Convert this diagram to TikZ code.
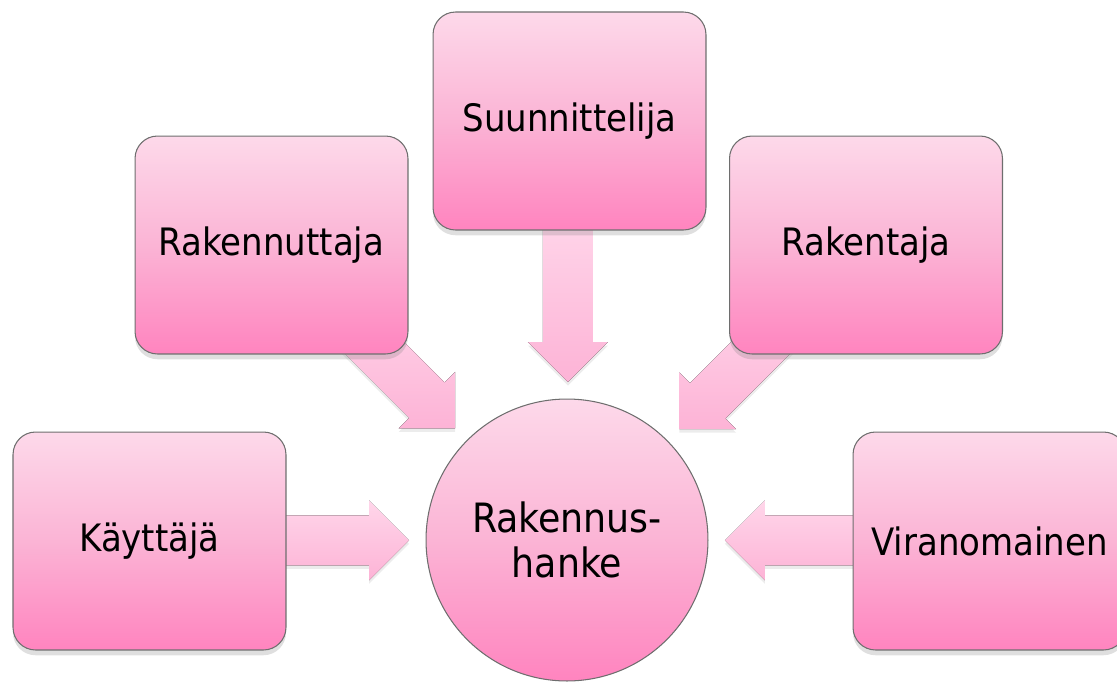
\documentclass[tikz,border=0pt]{standalone}
\usepackage{fontspec}
\setmainfont{DejaVu Sans Condensed}
\usetikzlibrary{calc,shadows,backgrounds}

\definecolor{ylavari}{HTML}{FDD9EA}
\definecolor{keskivari}{HTML}{FBB4D5}
\definecolor{alavari}{HTML}{FF84BF}
\definecolor{nuoliyla}{HTML}{FFD6EA}
\definecolor{nuoliala}{HTML}{FDB3D6}
\definecolor{reuna}{HTML}{6E6E6E}

% block arrow pointing at the project circle
\newcommand\virta[2]{%
  \begin{scope}[shift={($(hanke.center)!3.16cm!(#1.center)$)}, rotate=#2]
    \fill[virtaus] (0,0) -- (-40,40) -- (-40,25) -- (-170,25) -- (-170,-25)
      -- (-40,-25) -- (-40,-40) -- cycle;
  \end{scope}}

\begin{document}
\begin{tikzpicture}[x=0.02cm, y=-0.02cm,
  font=\fontsize{21.5pt}{26pt}\selectfont,
  laatikko/.style={draw=reuna, line width=0.6pt, rounded corners=0.45cm,
    minimum width=5.46cm, minimum height=4.36cm,
    top color=ylavari, bottom color=alavari, middle color=keskivari,
    drop shadow={shadow xshift=0pt, shadow yshift=-3pt, opacity=0.25}},
  pallo/.style={circle, draw=reuna, line width=0.6pt, minimum size=5.64cm,
    top color=ylavari, bottom color=alavari, middle color=keskivari,
    align=center, inner sep=0pt, font=\fontsize{23pt}{26pt}\selectfont},
  virtaus/.style={top color=nuoliyla, bottom color=nuoliala,
    drop shadow={shadow xshift=0pt, shadow yshift=-2pt, opacity=0.15}}]
\useasboundingbox (0,0) rectangle (1117,684);

\node[laatikko] (suunnittelija) at (569.5,121) {Suunnittelija};
\node[laatikko] (rakennuttaja) at (271.5,245) {Rakennuttaja};
\node[laatikko] (rakentaja) at (866,245) {Rakentaja};
\node[laatikko] (kayttaja) at (149.5,541) {Käyttäjä};
\node[laatikko] (viranomainen) at (989.5,541) {Viranomainen};
\node[pallo] (hanke) at (567,540) {Rakennus-\\hanke};

\begin{scope}[on background layer]
\virta{kayttaja}{0}
\virta{viranomainen}{180}
\virta{suunnittelija}{-90}
\virta{rakennuttaja}{-45}
\virta{rakentaja}{-135}
\end{scope}
\end{tikzpicture}
\end{document}
